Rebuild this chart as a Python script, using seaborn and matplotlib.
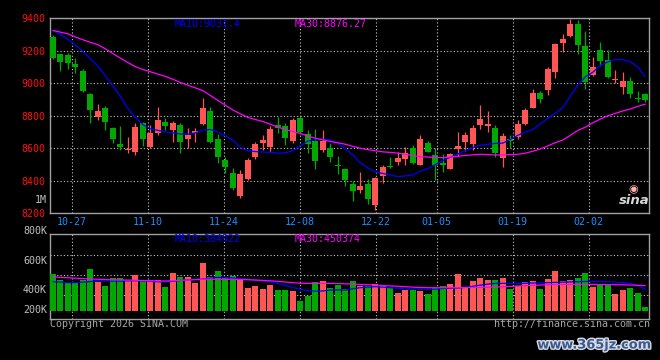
import numpy as np
import matplotlib
matplotlib.use("Agg")
import matplotlib.pyplot as plt
import matplotlib.patheffects as pe
import seaborn as sns

# ---------------- data ----------------
opens = [9288, 9178, 9172, 9118, 9078, 8936, 8794, 8850, 8728, 8627,
         8588, 8580, 8755, 8610, 8695, 8760, 8712, 8743, 8657, 8697,
         8748, 8828, 8655, 8528, 8448, 8308, 8411, 8549, 8635, 8610,
         8742, 8737, 8645, 8788, 8688, 8645, 8590, 8599, 8495, 8473,
         8381, 8341, 8381, 8253, 8430, 8489, 8516, 8535, 8602, 8497,
         8634, 8560, 8508, 8473, 8598, 8638, 8626, 8742, 8738, 8728,
         8542, 8660, 8671, 8748, 8848, 8941, 8956, 9071, 9250, 9292,
         9364, 9231, 9051, 9205, 9143, 9022, 8979, 9014, 8909, 8933]
highs = [9300, 9182, 9185, 9155, 9085, 8938, 8872, 8858, 8732, 8735,
         8668, 8755, 8760, 8742, 8856, 8785, 8768, 8754, 8722, 8722,
         8908, 8852, 8688, 8545, 8480, 8467, 8542, 8641, 8682, 8735,
         8795, 8755, 8785, 8800, 8710, 8717, 8712, 8630, 8555, 8481,
         8400, 8457, 8412, 8426, 8497, 8548, 8579, 8610, 8620, 8682,
         8645, 8600, 8563, 8570, 8702, 8702, 8746, 8864, 8827, 8746,
         8697, 8681, 8772, 8850, 8962, 8952, 9098, 9250, 9305, 9398,
         9390, 9322, 9164, 9252, 9205, 9082, 9068, 9041, 8955, 8942]
lows = [9150, 9075, 9090, 9065, 8948, 8755, 8772, 8710, 8634, 8590,
        8570, 8558, 8615, 8600, 8680, 8715, 8640, 8573, 8602, 8640,
        8742, 8635, 8512, 8446, 8345, 8295, 8405, 8534, 8590, 8575,
        8695, 8622, 8634, 8685, 8570, 8472, 8579, 8518, 8440, 8371,
        8273, 8324, 8259, 8222, 8385, 8476, 8495, 8495, 8505, 8495,
        8575, 8406, 8457, 8470, 8550, 8583, 8590, 8721, 8701, 8548,
        8487, 8599, 8660, 8745, 8846, 8878, 8929, 9035, 9192, 9282,
        9178, 8963, 9045, 9108, 9031, 9000, 8934, 8911, 8887, 8888]
closes = [9155, 9130, 9122, 9102, 8952, 8834, 8828, 8762, 8656, 8610,
          8592, 8730, 8657, 8692, 8773, 8737, 8757, 8641, 8681, 8707,
          8851, 8641, 8548, 8483, 8358, 8440, 8528, 8626, 8650, 8718,
          8722, 8665, 8773, 8702, 8624, 8524, 8646, 8548, 8490, 8406,
          8340, 8369, 8290, 8416, 8487, 8485, 8539, 8571, 8508, 8656,
          8577, 8495, 8495, 8563, 8613, 8681, 8722, 8778, 8748, 8573,
          8677, 8646, 8748, 8834, 8941, 8903, 9088, 9242, 9270, 9362,
          9236, 9010, 9102, 9137, 9041, 9026, 9014, 8934, 8905, 8898]
ma10 = [9327, 9300, 9271, 9236, 9196, 9151, 9105, 9046, 8984, 8920,
        8845, 8790, 8745, 8720, 8710, 8700, 8695, 8688, 8686, 8695,
        8712, 8716, 8700, 8675, 8650, 8605, 8585, 8580, 8577, 8575,
        8570, 8572, 8585, 8615, 8645, 8652, 8655, 8652, 8632, 8595,
        8560, 8510, 8480, 8455, 8445, 8436, 8426, 8430, 8436, 8460,
        8475, 8500, 8525, 8545, 8565, 8585, 8605, 8618, 8625, 8630,
        8632, 8655, 8680, 8700, 8715, 8750, 8785, 8815, 8850, 8921,
        8991, 9040, 9068, 9110, 9132, 9146, 9145, 9133, 9100, 9040]
ma30 = [9325, 9315, 9305, 9285, 9268, 9252, 9238, 9212, 9183, 9155,
        9128, 9102, 9085, 9071, 9057, 9043, 9025, 9005, 8988, 8972,
        8955, 8925, 8895, 8865, 8836, 8812, 8790, 8777, 8765, 8748,
        8730, 8716, 8703, 8692, 8675, 8662, 8652, 8642, 8634, 8625,
        8612, 8600, 8592, 8585, 8578, 8575, 8570, 8563, 8555, 8549,
        8546, 8544, 8542, 8546, 8551, 8556, 8560, 8563, 8561, 8559,
        8559, 8561, 8563, 8570, 8582, 8596, 8615, 8635, 8651, 8680,
        8710, 8730, 8757, 8780, 8800, 8815, 8830, 8842, 8858, 8872]
volumes_k = [660, 552, 492, 492, 552, 750, 522, 444, 588, 588,
             552, 642, 552, 552, 552, 426, 678, 606, 606, 504,
             858, 606, 714, 606, 630, 552, 408, 444, 390, 462,
             378, 378, 354, 174, 264, 516, 534, 402, 462, 390,
             534, 450, 450, 474, 450, 432, 318, 378, 378, 360,
             300, 408, 444, 480, 660, 408, 534, 588, 552, 552,
             588, 390, 444, 516, 534, 390, 570, 714, 534, 552,
             588, 678, 426, 462, 462, 300, 372, 408, 318, 66]
vol_ma10_k = [522, 515, 505, 505, 515, 525, 534, 534, 534, 534,
              538, 540, 536, 530, 520, 516, 530, 545, 555, 562,
              568, 585, 600, 594, 588, 576, 564, 552, 540, 516,
              490, 456, 420, 384, 360, 350, 355, 372, 372, 372,
              395, 414, 425, 432, 425, 414, 402, 392, 388, 384,
              384, 390, 400, 404, 408, 420, 440, 460, 478, 492,
              492, 492, 492, 495, 498, 502, 505, 510, 514, 518,
              522, 526, 528, 525, 520, 516, 505, 492, 450, 385]
vol_ma30_k = [610, 600, 594, 585, 578, 572, 566, 560, 556, 554,
              552, 548, 544, 540, 536, 534, 540, 548, 552, 558,
              566, 568, 566, 564, 564, 562, 558, 552, 546, 538,
              528, 516, 505, 494, 492, 492, 492, 492, 488, 484,
              479, 474, 468, 460, 452, 446, 440, 432, 424, 418,
              414, 414, 414, 414, 414, 416, 418, 420, 423, 426,
              432, 438, 444, 450, 456, 462, 468, 472, 474, 474,
              474, 474, 474, 472, 470, 468, 466, 462, 456, 450]
tick_index = [3, 13, 23, 33, 43, 51, 61, 71]
tick_labels = ["10-27", "11-10", "11-24", "12-08", "12-22", "01-05", "01-19", "02-02"]
price_ticks = [8200, 8400, 8600, 8800, 9000, 9200, 9400]
vol_tick_labels = ["800K", "600K", "400K", "200K"]
ma_price_labels = ["MA10:9031.4", "MA30:8876.27"]
ma_vol_labels = ["MA10:384922", "MA30:450374"]

# ---------------- styling ----------------
sns.set_theme(style="dark", rc={
    "axes.facecolor": "black", "figure.facecolor": "black",
    "savefig.facecolor": "black", "axes.edgecolor": "#a0a0a0",
})
plt.rcParams["font.family"] = ["DejaVu Sans Mono", "DejaVu Sans"]

RED = "#ff5555"
GREEN = "#00a800"
BLUE = "#0000ff"
MAG = "#ff00ff"
GRID = "#c8c8c8"
FS = 7.2

W, H = 660, 360
fig = plt.figure(figsize=(6.6, 3.6), dpi=100)
ax_p = fig.add_axes([50 / W, (H - 213.3) / H, 599.3 / W, 195 / H])
ax_v = fig.add_axes([50 / W, (H - 318.5) / H, 599.3 / W, 84.2 / H])

o = np.array(opens, float)
c = np.array(closes, float)
hi = np.array(highs, float)
lo = np.array(lows, float)
x = np.arange(len(o))
up = c >= o
cols = np.where(up, RED, GREEN)

# candles
ax_p.vlines(x, lo, hi, colors=cols, linewidth=0.9, zorder=3)
body_bottom = np.minimum(o, c)
body_h = np.maximum(np.abs(c - o), 6)
ax_p.bar(x, body_h, bottom=body_bottom, width=0.76, color=cols, linewidth=0, zorder=4)

sns.lineplot(x=x, y=ma10, ax=ax_p, color=BLUE, linewidth=0.9, zorder=5)
sns.lineplot(x=x, y=ma30, ax=ax_p, color=MAG, linewidth=0.9, zorder=5)

xlim = (-0.38, 79.53)
tick_pos = [k * 80 / 79 - 0.45 for k in tick_index]

for ax in (ax_p, ax_v):
    ax.set_xlim(*xlim)
    ax.set_xticks(tick_pos)
    ax.grid(True, color=GRID, linestyle=(0, (1, 2)), linewidth=0.8, zorder=1)
    for s in ax.spines.values():
        s.set_color("#a0a0a0")
        s.set_linewidth(1.0)
    ax.set_xlabel("")
    ax.set_ylabel("")

ax_p.set_ylim(8200, 9400)
ax_p.set_yticks(price_ticks)
ax_p.set_yticklabels([str(t) for t in price_ticks])
ax_p.set_xticklabels(tick_labels)
ax_p.tick_params(axis="y", length=0, pad=3, labelsize=FS, labelcolor="#ff1010")
ax_p.tick_params(axis="x", length=0, pad=2.5, labelsize=FS, labelcolor="#1e90ff")

# volume
vol = np.array(volumes_k, float) * 1000
ax_v.bar(x, vol, width=0.76, color=cols, linewidth=0, zorder=3)
sns.lineplot(x=x, y=np.array(vol_ma10_k) * 1000, ax=ax_v, color=BLUE, linewidth=0.9, zorder=5)
sns.lineplot(x=x, y=np.array(vol_ma30_k) * 1000, ax=ax_v, color=MAG, linewidth=0.9, zorder=5)
ax_v.set_ylim(-140400, 1375200)
ax_v.set_yticks([282600, 642600, 1002600])
ax_v.set_yticklabels([])
ax_v.set_xticklabels([])
ax_v.tick_params(length=0)

def ftext(px, py, s, **kw):
    fig.text(px / W, 1 - py / H, s, **kw)

ftext(175, 24, ma_price_labels[0], color=BLUE, fontsize=FS, va="center")
ftext(295, 24, ma_price_labels[1], color=MAG, fontsize=FS, va="center")
ftext(175, 238.5, ma_vol_labels[0], color=BLUE, fontsize=FS, va="center")
ftext(295, 238.5, ma_vol_labels[1], color=MAG, fontsize=FS, va="center")

for lab, py in zip(vol_tick_labels, [231, 260.7, 290.3, 310.3]):
    ftext(47, py, lab, color="#c0c0c0", fontsize=FS, ha="right", va="center")
ftext(47, 200, "1M", color="#c0c0c0", fontsize=FS, ha="right", va="center")

ftext(50, 323.7, "Copyright 2026 SINA.COM", color="#a8a8a8", fontsize=FS, va="center")
ftext(650, 323.7, "http://finance.sina.com.cn", color="#a8a8a8", fontsize=FS, ha="right", va="center")

ftext(633, 189, "\u25c9", color="#ffb0b0", fontsize=8, ha="center", va="center",
      family=["DejaVu Sans"])
ftext(634, 200, "sina", color="#d8d8d8", fontsize=9.5, ha="center", va="center",
      family=["DejaVu Sans"], fontweight="bold", style="italic")

ftext(594, 345, "www.365jz.com", color="#3a5a8c", fontsize=9.3, ha="center", va="center",
      family=["DejaVu Sans"], fontweight="bold",
      path_effects=[pe.withStroke(linewidth=2.0, foreground="#d8dce8")])

fig.savefig("out.png", dpi=100, facecolor="black")
